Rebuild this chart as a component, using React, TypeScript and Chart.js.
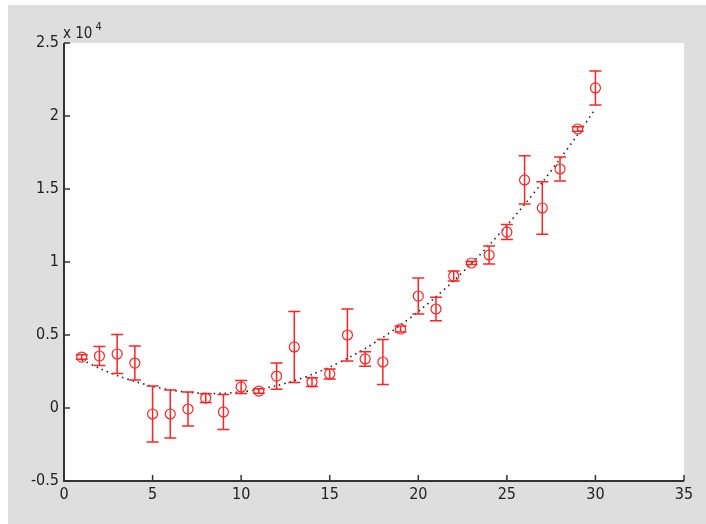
import { useEffect, useRef } from 'react';
import { Chart, registerables } from 'chart.js';

Chart.register(...registerables);

// ---- data ----
const xValues = [1, 2, 3, 4, 5, 6, 7, 8, 9, 10, 11, 12, 13, 14, 15, 16, 17, 18, 19, 20, 21, 22, 23, 24, 25, 26, 27, 28, 29, 30];
const means = [3490, 3560, 3700, 3080, -410, -410, -70, 680, -270, 1440, 1160, 2190, 4180, 1780, 2330, 5000, 3360, 3150, 5410, 7670, 6780, 9040, 9930, 10480, 12050, 15620, 13700, 16370, 19110, 21920];
const errors = [150, 650, 1340, 1160, 1920, 1640, 1160, 300, 1200, 450, 150, 900, 2430, 300, 340, 1780, 500, 1540, 200, 1230, 800, 340, 100, 620, 510, 1650, 1800, 820, 150, 1170];
const fitValues = [3300, 2720, 2224, 1812, 1483, 1238, 1077, 1000, 1007, 1097, 1271, 1529, 1871, 2297, 2806, 3399, 4076, 4837, 5681, 6610, 7622, 8718, 9897, 11161, 12508, 13939, 15454, 17053, 18735, 20500];
const exponentBase = 'x 10';
const exponentPower = '4';
const yScaleFactor = 10000;

const RED = 'rgb(255,36,36)';
const AXIS = '#333333';
const FONT = '"Liberation Sans Narrow", "DejaVu Sans Condensed", "Liberation Sans", sans-serif';

const matlabPlugin = {
  id: 'matlabLook',
  beforeDraw(chart: any) {
    const { ctx, chartArea } = chart;
    ctx.save();
    ctx.fillStyle = '#ffffff';
    ctx.fillRect(chartArea.left, chartArea.top, chartArea.right - chartArea.left, chartArea.bottom - chartArea.top);
    ctx.restore();
  },
  afterDatasetsDraw(chart: any) {
    const { ctx } = chart;
    const xs = chart.scales.x;
    const ys = chart.scales.y;
    ctx.save();
    ctx.strokeStyle = RED;
    ctx.lineWidth = 1.5;
    for (let i = 0; i < xValues.length; i++) {
      const px = xs.getPixelForValue(xValues[i]);
      const top = ys.getPixelForValue(means[i] + errors[i]);
      const bot = ys.getPixelForValue(means[i] - errors[i]);
      ctx.beginPath();
      ctx.moveTo(px, top);
      ctx.lineTo(px, bot);
      ctx.moveTo(px - 6, top);
      ctx.lineTo(px + 6, top);
      ctx.moveTo(px - 6, bot);
      ctx.lineTo(px + 6, bot);
      ctx.stroke();
    }
    ctx.restore();
  },
  afterDraw(chart: any) {
    const { ctx, chartArea } = chart;
    const xs = chart.scales.x;
    const ys = chart.scales.y;
    ctx.save();
    ctx.strokeStyle = AXIS;
    ctx.lineWidth = 2;
    ctx.beginPath();
    ctx.moveTo(chartArea.left, chartArea.top);
    ctx.lineTo(chartArea.left, chartArea.bottom);
    ctx.lineTo(chartArea.right, chartArea.bottom);
    ctx.stroke();
    ctx.lineWidth = 1.5;
    ctx.beginPath();
    for (const t of ys.ticks) {
      const py = ys.getPixelForValue(t.value);
      ctx.moveTo(chartArea.left, py);
      ctx.lineTo(chartArea.left + 6, py);
    }
    for (const t of xs.ticks) {
      const px = xs.getPixelForValue(t.value);
      ctx.moveTo(px, chartArea.bottom);
      ctx.lineTo(px, chartArea.bottom - 6);
    }
    ctx.stroke();
    // exponent label
    ctx.fillStyle = '#222222';
    ctx.textBaseline = 'alphabetic';
    ctx.textAlign = 'left';
    ctx.font = '15px ' + FONT;
    ctx.fillText(exponentBase, chartArea.left - 1, chartArea.top - 5);
    const w = ctx.measureText(exponentBase).width;
    ctx.font = '11px ' + FONT;
    ctx.fillText(exponentPower, chartArea.left + w + 2, chartArea.top - 13);
    ctx.restore();
  },
};

export default function App() {
  const ref = useRef<HTMLCanvasElement | null>(null);
  useEffect(() => {
    if (!ref.current) return;
    const chart = new Chart(ref.current, {
      type: 'scatter',
      data: {
        datasets: [
          {
            type: 'scatter',
            data: xValues.map((x, i) => ({ x, y: means[i] })),
            pointStyle: 'circle',
            pointRadius: 5,
            pointBorderWidth: 1.2,
            borderColor: RED,
            backgroundColor: 'rgba(0,0,0,0)',
            order: 1,
          } as any,
          {
            type: 'line',
            data: xValues.map((x, i) => ({ x, y: fitValues[i] })),
            borderColor: '#222222',
            borderWidth: 1.6,
            borderDash: [1.5, 4],
            pointRadius: 0,
            fill: false,
            tension: 0.3,
            order: 2,
          } as any,
        ],
      },
      options: {
        responsive: false,
        animation: false,
        layout: { padding: { top: 38, right: 22, left: 0, bottom: 0 } },
        plugins: { legend: { display: false }, tooltip: { enabled: false } },
        scales: {
          x: {
            type: 'linear',
            min: 0,
            max: 35,
            grid: { display: false, drawTicks: false },
            border: { display: false },
            ticks: { stepSize: 5, padding: 4, color: '#222222', font: { family: FONT, size: 16 }, maxRotation: 0 },
            afterFit: (s: any) => { s.height = 43; },
          },
          y: {
            type: 'linear',
            min: -5000,
            max: 25000,
            grid: { display: false, drawTicks: false },
            border: { display: false },
            ticks: {
              stepSize: 5000,
              padding: 5,
              color: '#222222',
              font: { family: FONT, size: 16 },
              callback: (v: any) => String(Number(v) / yScaleFactor),
            },
            afterFit: (s: any) => { s.width = 56; },
          },
        },
      },
      plugins: [matlabPlugin],
    });
    return () => chart.destroy();
  }, []);
  return (
    <div style={{ position: 'absolute', left: 8, top: 5, width: 698, height: 519, background: '#dedede' }}>
      <canvas ref={ref} width={698} height={519} style={{ display: 'block' }} />
    </div>
  );
}
